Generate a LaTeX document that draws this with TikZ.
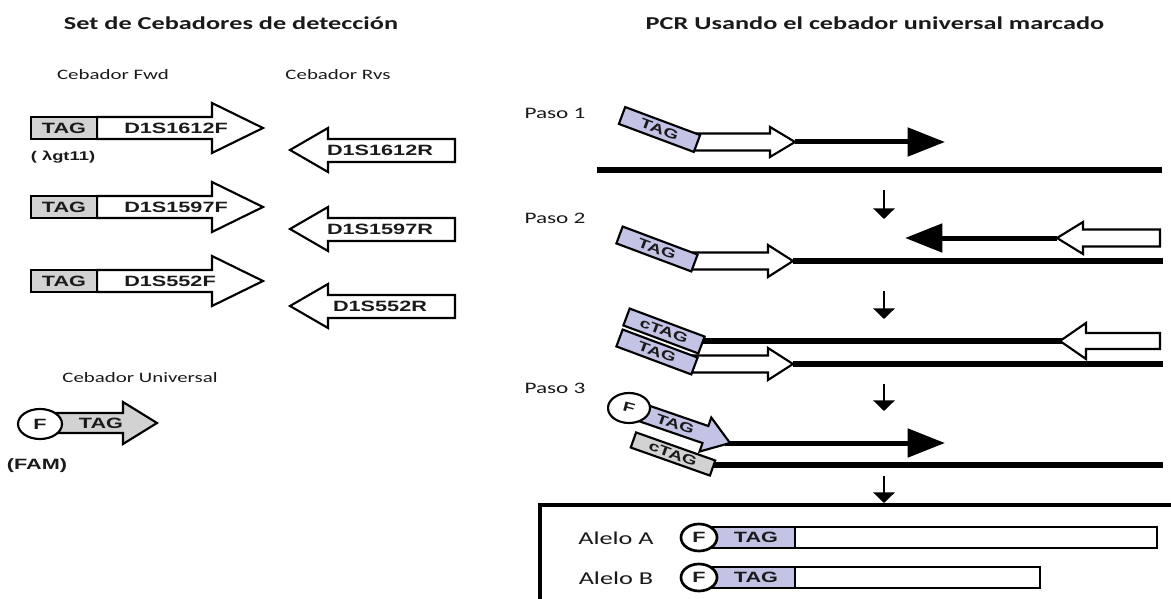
\documentclass[tikz,border=0pt]{standalone}
\usepackage{fontspec}
\setmainfont{Carlito}[FakeStretch=1.45]
\newfontfamily\arl{Liberation Sans}[FakeStretch=1.45]
\usetikzlibrary{arrows.meta}
\definecolor{tagpur}{HTML}{C3C3E6}
\definecolor{taggray}{HTML}{D2D2D2}
\definecolor{txt}{HTML}{1A1A1A}
\begin{document}
\begin{tikzpicture}[x=0.75pt,y=-0.75pt,
  prim/.style={draw=black, line width=1.6pt, fill=white, line join=miter},
  ptxt/.style={font=\arl\bfseries\fontsize{11.2}{12}\selectfont, inner sep=0pt, text=txt},
  ttl/.style={font=\bfseries\fontsize{13.6}{15}\selectfont, inner sep=0pt, text=txt},
  lbl/.style={font=\fontsize{10.8}{12}\selectfont, inner sep=0pt, text=txt},
  paso/.style={font=\fontsize{12}{14}\selectfont, inner sep=0pt, text=txt},
  alelo/.style={font=\fontsize{13.6}{15}\selectfont, inner sep=0pt, text=txt},
  tbox/.style={draw=black, line width=1.6pt, fill=tagpur, minimum width=60pt, minimum height=13.5pt, inner sep=0pt, font=\arl\bfseries\fontsize{10}{12}\selectfont, text=txt},
  strand/.style={line width=3.75pt, -{Triangle[length=28pt,width=21pt]}},
  tmpl/.style={line width=4.5pt},
  down/.style={line width=2.2pt, -{Triangle[length=8pt,width=16pt]}}
]
\useasboundingbox (0,0) rectangle (1171,599);
\clip (0,0) rectangle (1171,599);
\fill[white] (0,0) rectangle (1171,599);

% titles
\node[ttl] (t1) at (231,23) {Set de Cebadores de detección};
\node[ttl] (t2) at (875,23) {PCR Usando el cebador universal marcado};
\node[lbl] (lf) at (113,75) {Cebador Fwd};
\node[lbl] (lr) at (338,75) {Cebador Rvs};
\node[lbl] (lu) at (140,378) {Cebador Universal};

% forward primers
\foreach \dy/\lab/\nm in {0/D1S1612F/a,79/D1S1597F/b,153/D1S552F/c}{
  \draw[prim] (97,{117+\dy}) -- (212,{117+\dy}) -- (212,{103+\dy}) -- (263,{128+\dy}) -- (212,{153+\dy}) -- (212,{139+\dy}) -- (97,{139+\dy}) -- cycle;
  \draw[prim, fill=taggray] (31,{117+\dy}) rectangle (97,{139+\dy});
  \node[ptxt] (tag\nm) at (64,{128+\dy}) {TAG};
  \node[ptxt, anchor=west] (fwd\nm) at (124,{128+\dy}) {\lab};
}
\node[ptxt, font=\arl\bfseries\fontsize{9.5}{11}\selectfont] (lam) at (63,157) {( λgt11)};

% reverse primers
\foreach \dy/\lab/\nm in {0/D1S1612R/a,79/D1S1597R/b,156/D1S552R/c}{
  \draw[prim] (455,{139+\dy}) -- (328,{139+\dy}) -- (328,{128+\dy}) -- (290,{150+\dy}) -- (328,{172+\dy}) -- (328,{162+\dy}) -- (455,{162+\dy}) -- cycle;
  \node[ptxt] (rvs\nm) at (380,{150+\dy}) {\lab};
}

% universal primer
\draw[prim, fill=taggray] (50,413) -- (123,413) -- (123,402) -- (157,423) -- (123,444) -- (123,433) -- (50,433) -- cycle;
\draw[prim] (40,424) ellipse [x radius=22, y radius=15];
\node[ptxt] (fu) at (40,424) {F};
\node[ptxt] (tu) at (101,423) {TAG};
\node[ptxt] (fam) at (37,466) {(FAM)};

% step labels
\node[paso] (p1) at (555,113) {Paso 1};
\node[paso] (p2) at (555,218) {Paso 2};
\node[paso] (p3) at (555,388) {Paso 3};

% Step 1
\draw[tmpl] (597,170) -- (1162,170);
\draw[prim] (692,133.5) -- (770,133.5) -- (770,127) -- (795,142) -- (770,157) -- (770,150.5) -- (692,150.5) -- cycle;
\node[tbox, rotate=-20.5] (tag1) at (659.5,129.5) {TAG};
\coordinate (s1a) at (795,142);
\coordinate (s1b) at (945,142);
\draw[strand] (s1a) -- (s1b);

% arrows between steps
\draw[down] (884,190) -- (884,219);
\draw[down] (884,291) -- (884,319);
\draw[down] (884,384) -- (884,411);
\draw[down] (884,476) -- (884,503);

% Step 2
\draw[tmpl] (793,261) -- (1163,261);
\draw[prim] (690,252.5) -- (768,252.5) -- (768,245) -- (793,261) -- (768,277) -- (768,269.5) -- (690,269.5) -- cycle;
\node[tbox, rotate=-20.5] (tag2) at (657,249) {TAG};
\coordinate (s2a) at (1057,238);
\coordinate (s2b) at (905,238);
\draw[strand] (s2a) -- (s2b);
\draw[prim] (1160,229.5) -- (1083,229.5) -- (1083,222) -- (1057,238) -- (1083,254) -- (1083,246.5) -- (1160,246.5) -- cycle;

% Step 2b
\draw[line width=5pt] (700,341) -- (1062,341);
\draw[prim] (1160,333) -- (1086,333) -- (1086,323) -- (1060,341) -- (1086,359) -- (1086,349) -- (1160,349) -- cycle;
\node[tbox, rotate=-20.5] (ctag2) at (664,331) {cTAG};
\draw[tmpl] (793,364) -- (1163,364);
\draw[prim] (690,355.5) -- (768,355.5) -- (768,348) -- (793,364) -- (768,380) -- (768,372.5) -- (690,372.5) -- cycle;
\node[tbox, rotate=-20.5] (tag3) at (657,352) {TAG};

% Step 3
\draw[tmpl] (705,465) -- (1163,465);
\node[tbox, fill=taggray, rotate=-19.5, minimum width=63pt, minimum height=12pt] (ctag3) at (673,454) {cTAG};
\coordinate (s3a) at (725,443);
\coordinate (s3b) at (945,443);
\draw[strand] (s3a) -- (s3b);
\begin{scope}[shift={(730,443)}, rotate=-19]
  \draw[prim, fill=tagpur] (-100,-9) -- (-26,-9) -- (-26,-18) -- (0,0) -- (-26,18) -- (-26,9) -- (-100,9) -- cycle;
  \node[ptxt, rotate=-19, font=\arl\bfseries\fontsize{10}{12}\selectfont] (tag4) at (-58,0) {TAG};
\end{scope}
\draw[prim] (629,408) ellipse [x radius=21, y radius=15];
\node[ptxt, rotate=-15, font=\arl\bfseries\fontsize{10}{12}\selectfont] (f3) at (629,408) {F};

% result box
\draw[line width=3pt] (540,620) -- (540,505) -- (1190,505);
\node[alelo] (aa) at (616,538) {Alelo A};
\node[alelo] (ab) at (616,578) {Alelo B};
\draw[prim, line width=2pt, fill=tagpur] (700,527) rectangle (795,548);
\draw[prim, line width=2pt] (795,527) rectangle (1157,548);
\draw[prim, line width=2pt] (699,537.5) ellipse [x radius=18, y radius=13.5];
\node[ptxt] (fa) at (699,537.5) {F};
\node[ptxt] (ta) at (756,537.5) {TAG};
\draw[prim, line width=2pt, fill=tagpur] (700,567) rectangle (795,588);
\draw[prim, line width=2pt] (795,567) rectangle (1040,588);
\draw[prim, line width=2pt] (699,577.5) ellipse [x radius=18, y radius=13.5];
\node[ptxt] (fb) at (699,577.5) {F};
\node[ptxt] (tb) at (756,577.5) {TAG};
\end{tikzpicture}
\end{document}
